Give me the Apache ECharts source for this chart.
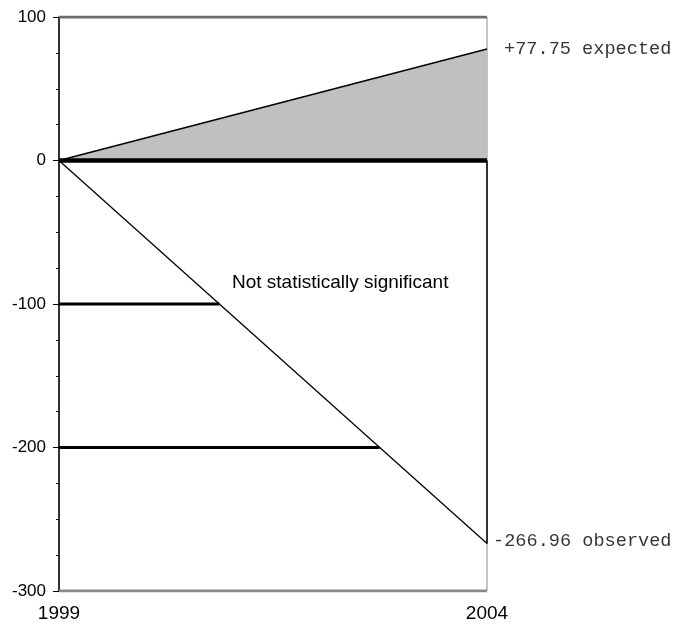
<!DOCTYPE html>
<html>
<head>
<meta charset="utf-8">
<script src="https://cdn.jsdelivr.net/npm/echarts@6/dist/echarts.min.js"></script>
<style>html,body{margin:0;padding:0;background:#fff}#c{width:675px;height:624px}</style>
</head>
<body>
<div id="c"></div>
<script>
var years = [1999, 2004];
var expected = [0, 77.75];
var observed = [0, -266.96];
var thresholds = [-100, -200];
var yTicks = [-300, -200, -100, 0, 100];
var expectedLabel = '+77.75 expected';
var observedLabel = '-266.96 observed';
var noteText = 'Not statistically significant';

var chart = echarts.init(document.getElementById('c'));
var x0 = years[0], x1 = years[years.length - 1];
function obsAt(v) { // x where observed line reaches value v
  return x0 + (x1 - x0) * (v - observed[0]) / (observed[1] - observed[0]);
}
var series = [];
series.push({
  type: 'line', symbol: 'none', z: 2,
  data: years.map(function (y, i) { return [y, expected[i]]; }),
  lineStyle: { color: '#000', width: 1.5 },
  areaStyle: { color: '#c0c0c0', opacity: 1, origin: 0 }
});
series.push({
  type: 'line', symbol: 'none', z: 3,
  data: years.map(function (y) { return [y, 0]; }),
  lineStyle: { color: '#000', width: 4.5 }
});
series.push({
  type: 'line', symbol: 'none', z: 3,
  data: years.map(function (y, i) { return [y, observed[i]]; }),
  lineStyle: { color: '#000', width: 1.3 }
});
series.push({
  type: 'line', symbol: 'none', z: 3,
  data: [[x1, 0], [x1, observed[1]]],
  lineStyle: { color: '#000', width: 1.5 }
});
thresholds.forEach(function (t) {
  series.push({
    type: 'line', symbol: 'none', z: 3,
    data: [[x0, t], [obsAt(t), t]],
    lineStyle: { color: '#000', width: 3 }
  });
});
series.push({
  type: 'line', symbol: 'none', z: 4,
  data: [[x0, yTicks[yTicks.length - 1]], [x1, yTicks[yTicks.length - 1]]],
  lineStyle: { color: '#6e6e6e', width: 3 }
});
series.push({
  type: 'line', symbol: 'none', z: 4,
  data: [[x0, yTicks[0]], [x1, yTicks[0]]],
  lineStyle: { color: '#8a8a8a', width: 3 }
});
series.push({
  type: 'scatter', symbolSize: 0, z: 5,
  data: [
    { value: [x1, expected[1]], label: { formatter: expectedLabel, offset: [12, 0] } },
    { value: [x1, observed[1]], label: { formatter: observedLabel, offset: [1, -3] } }
  ],
  label: {
    show: true, position: 'right', color: '#000',
    fontFamily: '"Liberation Mono", "Courier New", monospace', fontSize: 18.6
  },
  silent: true
});

chart.setOption({
  animation: false,
  backgroundColor: '#fff',
  grid: { left: 59, right: 188, top: 17, bottom: 33, show: true, borderColor: '#8a8a8a', borderWidth: 1, backgroundColor: 'transparent' },
  xAxis: {
    type: 'value', min: x0, max: x1,
    axisLine: { show: false }, axisTick: { show: false }, splitLine: { show: false },
    axisLabel: {
      customValues: years, margin: 13,
      fontFamily: 'Arial, "Liberation Sans", sans-serif', fontSize: 19, color: '#000',
      formatter: function (v) { return String(v); }
    }
  },
  yAxis: {
    type: 'value', min: yTicks[0], max: yTicks[yTicks.length - 1], interval: 100,
    axisLine: { show: true, onZero: false, lineStyle: { color: '#000', width: 1.5 } },
    axisTick: { show: true, inside: false, length: 6, lineStyle: { color: '#000', width: 1 } },
    minorTick: { show: true, splitNumber: 4, length: 3, lineStyle: { color: '#000', width: 1 } },
    splitLine: { show: false },
    axisLabel: { margin: 13, fontFamily: 'Arial, "Liberation Sans", sans-serif', fontSize: 17, color: '#000' }
  },
  graphic: [{
    type: 'text', left: 232, top: 273, z: 10,
    style: { text: noteText, fontFamily: 'Arial, "Liberation Sans", sans-serif', fontSize: 19, letterSpacing: 0.3, fill: '#000' }
  }],
  series: series
});
</script>
</body>
</html>
